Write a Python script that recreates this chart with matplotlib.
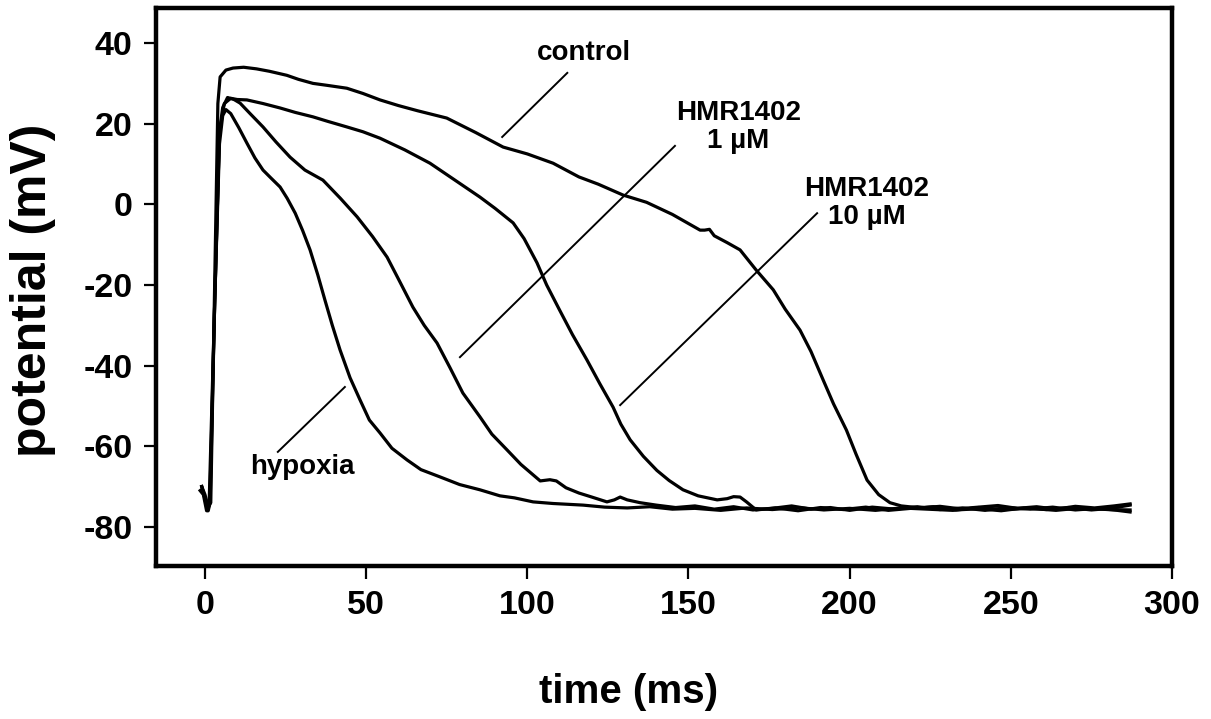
import matplotlib
matplotlib.use("Agg")
import matplotlib.pyplot as plt

plt.rcParams['font.family'] = ['Liberation Sans', 'DejaVu Sans']
plt.rcParams['font.weight'] = 'bold'
plt.rcParams['axes.unicode_minus'] = False

# action potential traces (time in ms, potential in mV)
hyp_t = [-1.5, -0.5, 0.5, 1.3, 3, 4.5, 5.5, 6.5, 8, 10.5, 13, 15.5, 18, 20.5, 23.3, 25.5, 28,
         30.3, 32.6, 35, 37.2, 39.5, 41.9, 45, 48.1, 51, 54.3, 58, 62.7, 67, 72.9, 79, 85.3,
         91.5, 96, 101.8, 108, 117.3, 124, 131, 138, 145, 152, 160, 168, 176, 184, 192, 200,
         208, 216, 224, 232, 240, 248, 256, 264, 272, 280, 287]
hyp_v = [-71, -72, -76, -74, -25, 15, 22, 23.5, 22.5, 19, 15.2, 11.5, 8.5, 6.5, 4.3, 1.5, -2.2,
         -6.5, -11.3, -17.5, -23.7, -30, -36.1, -43, -48.5, -53.5, -56.7, -60.5, -63.4, -65.8,
         -67.6, -69.5, -70.8, -72.3, -72.8, -73.8, -74.2, -74.6, -75.1, -75.3, -75.0, -75.6,
         -75.4, -75.9, -75.3, -75.7, -75.2, -75.8, -75.4, -75.9, -75.3, -75.6, -75.9, -75.2,
         -75.7, -75.4, -75.9, -75.3, -75.7, -75.8]

hmr1_t = [-1, 0, 0.8, 1.5, 3, 4.5, 5.5, 7, 9, 10.9, 14, 18, 22, 26.4, 31, 36.6, 42, 47.2, 52,
          56.5, 60, 64.5, 68, 72, 76, 80, 85.3, 89, 93.7, 98, 104, 107, 109, 112, 116, 120,
          124.7, 127, 128.8, 131, 135, 140, 146, 152, 158, 164, 170, 177, 184, 191, 198, 205,
          212, 219, 226, 233, 240, 247, 254, 261, 268, 275, 281, 287]
hmr1_v = [-70, -73, -76, -74, -25, 18, 24, 26.5, 26, 25.1, 22.5, 19.2, 15.5, 11.7, 8.5, 6, 1.5,
          -3.1, -8, -13.1, -18.5, -25.5, -30, -34.4, -40.5, -46.8, -52.7, -57, -60.9, -64.5,
          -68.6, -68.3, -68.6, -70.3, -71.6, -72.6, -73.8, -73.3, -72.6, -73.3, -74, -74.6,
          -75.2, -74.8, -75.6, -75.0, -75.8, -75.3, -76.0, -75.2, -75.7, -75.1, -75.9, -75.4,
          -75.0, -75.8, -75.5, -76.0, -75.3, -75.7, -75.2, -75.8, -75.4, -74.6]

hmr10_t = [-1, 0, 1, 1.6, 3, 4.5, 6, 8, 10, 13, 18, 23.3, 28, 33.5, 38, 44, 49, 54.3, 62,
           69.8, 77, 85.3, 90, 95.6, 99, 103, 106, 110, 114, 118.5, 122.5, 126.6, 129,
           131.9, 136, 140.2, 144, 148.3, 153, 158.9, 162, 164, 166, 168, 171, 176, 182,
           188, 194, 200, 207, 214, 221, 228, 235, 242, 249, 256, 263, 270, 277, 283, 287]
hmr10_v = [-70, -73, -76, -74, -25, 18, 25, 26.3, 26, 25.9, 25, 23.9, 22.8, 21.7, 20.6, 19.2,
           18, 16.4, 13.5, 10.2, 6.3, 1.8, -1, -4.6, -8.5, -14.5, -20, -26.2, -32.3, -38.6,
           -44.5, -50.3, -54.5, -58.4, -62.5, -66, -68.5, -70.8, -72.3, -73.3, -73, -72.5,
           -72.6, -73.8, -75.8, -75.4, -74.8, -75.6, -75.2, -75.9, -75.1, -75.6, -75.0,
           -75.7, -75.3, -75.9, -75.2, -75.6, -75.1, -75.8, -75.4, -75.9, -76.3]

ctrl_t = [-1, 0, 1, 1.8, 3, 4, 4.7, 6.5, 8.7, 12, 16, 20, 25.4, 29, 33.5, 38, 44, 49, 54.3,
          60, 66, 75, 84, 92.5, 100, 108, 116, 122, 129.7, 137, 145, 153.6, 155, 156.5, 158,
          162, 166, 171, 176.3, 180, 184.6, 188, 191.8, 195, 199, 202, 205.4, 209, 212.5,
          216, 222, 228, 234, 240, 246, 252, 258, 264, 270, 276, 282, 287]
ctrl_v = [-70, -72, -75, -74, -20, 25, 31.6, 33.3, 33.8, 34, 33.6, 33, 32, 31, 30, 29.5, 28.8,
          27.5, 25.9, 24.5, 23.2, 21.4, 17.8, 14.2, 12.5, 10.2, 6.8, 5, 2.3, 0.5, -2.5, -6.4,
          -6.4, -6.2, -7.8, -9.5, -11.3, -16.3, -21.2, -26, -31.2, -36.5, -43.6, -49.5, -56,
          -62, -68.4, -72, -74, -74.8, -75.3, -74.9, -75.5, -75.1, -74.7, -75.4, -75.0,
          -75.6, -74.9, -75.3, -74.8, -74.3]

traces = [(hyp_t, hyp_v), (hmr1_t, hmr1_v), (hmr10_t, hmr10_v), (ctrl_t, ctrl_v)]

# label text, text position, leader line start and end
labels = ["control", "HMR1402\n1 µM", "HMR1402\n10 µM", "hypoxia"]
label_xy = [(117.6, 37.5), (165.4, 19.2), (205.4, 0.3), (30.1, -65.1)]
leader_from = [(112.4, 32.6), (145.8, 14.5), (189.9, -2.2), (22.6, -61.4)]
leader_to = [(92.2, 16.7), (79.1, -37.9), (128.8, -49.8), (43.4, -45.3)]

x_ticks = [0, 50, 100, 150, 200, 250, 300]
y_ticks = [-80, -60, -40, -20, 0, 20, 40]

fig = plt.figure(figsize=(12.11, 7.19), dpi=100)
ax = fig.add_axes([0.1288, 0.2128, 0.839, 0.7761])

for t, v in traces:
    ax.plot(t, v, color='black', lw=2.3, solid_joinstyle='round')

for txt, xy, p0, p1 in zip(labels, label_xy, leader_from, leader_to):
    ax.plot([p0[0], p1[0]], [p0[1], p1[1]], color='black', lw=1.4)
    ax.text(xy[0], xy[1], txt, ha='center', va='center', fontsize=20,
            fontweight='bold', linespacing=1.1)

ax.set_xlim(-15.2, 300)
ax.set_ylim(-89.7, 48.7)
ax.set_xticks(x_ticks)
ax.set_yticks(y_ticks)
ax.tick_params(axis='both', direction='out', length=9, width=1.6,
               labelsize=24.5, pad=8)
ax.tick_params(top=False, right=False)
for s in ax.spines.values():
    s.set_linewidth(3.2)

# axis titles placed in figure coordinates
fig.text(629 / 1211, 1 - 692 / 719, "time (ms)", ha='center', va='center',
         fontsize=29, fontweight='bold')
fig.text(33 / 1211, 1 - 290 / 719, "potential (mV)", ha='center', va='center',
         rotation=90, fontsize=36, fontweight='bold')

fig.savefig("out.png", dpi=100)
